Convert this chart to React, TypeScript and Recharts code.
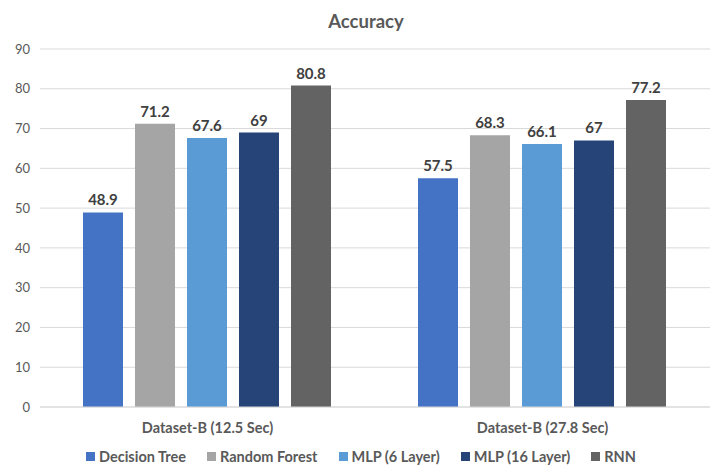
import { BarChart, Bar, XAxis, YAxis, CartesianGrid, Legend, LabelList } from "recharts";

const categories = ["Dataset-B (12.5 Sec)", "Dataset-B (27.8 Sec)"];
const decisionTree = [48.9, 57.5];
const randomForest = [71.2, 68.3];
const mlp6 = [67.6, 66.1];
const mlp16 = [69, 67];
const rnn = [80.8, 77.2];
const yTicks = [0, 10, 20, 30, 40, 50, 60, 70, 80, 90];

const series = [
  { key: "dt", name: "Decision Tree", values: decisionTree, color: "#4472C4" },
  { key: "rf", name: "Random Forest", values: randomForest, color: "#A5A5A5" },
  { key: "m6", name: "MLP (6 Layer)", values: mlp6, color: "#5B9BD5" },
  { key: "m16", name: "MLP (16 Layer)", values: mlp16, color: "#264478" },
  { key: "rnn", name: "RNN", values: rnn, color: "#636363" },
];

const data = categories.map((c, i) => {
  const row: any = { category: c };
  series.forEach((s) => (row[s.key] = s.values[i]));
  return row;
});

const font = "Lato, 'Open Sans', sans-serif";

function LegendContent() {
  return (
    <div
      style={{
        height: 26,
        display: "flex",
        justifyContent: "center",
        alignItems: "center",
        gap: 21,
        fontSize: 14.5,
        fontWeight: "bold",
        color: "#595959",
        paddingLeft: 4,
      }}
    >
      {series.map((s) => (
        <div key={s.key} style={{ display: "flex", alignItems: "center" }}>
          <span style={{ width: 9, height: 9, background: s.color, marginRight: 4, display: "inline-block" }} />
          <span>{s.name}</span>
        </div>
      ))}
    </div>
  );
}

export default function App() {
  return (
    <div style={{ width: 716, height: 467, fontFamily: font, position: "relative" }}>
      <div
        style={{
          position: "absolute",
          top: 2,
          left: 0,
          width: 716,
          textAlign: "center",
          fontSize: 18.5,
          fontWeight: "bold",
          color: "#595959",
        }}
      >
        Accuracy
      </div>
      <BarChart
        width={716}
        height={467}
        data={data}
        margin={{ top: 41, right: 14, bottom: 6, left: 0 }}
        barCategoryGap={43}
        barGap={12}
      >
        <CartesianGrid vertical={false} stroke="#d9d9d9" />
        <XAxis
          dataKey="category"
          height={36}
          tickLine={false}
          axisLine={{ stroke: "#d9d9d9" }}
          tick={{ fill: "#595959", fontSize: 14.5, fontWeight: "bold" }}
          tickMargin={10}
        />
        <YAxis
          width={32}
          domain={[0, 90]}
          ticks={yTicks}
          tickLine={false}
          axisLine={false}
          tick={{ fill: "#595959", fontSize: 13 }}
          tickMargin={4}
        />
        <Legend verticalAlign="bottom" height={26} content={<LegendContent />} />
        {series.map((s) => (
          <Bar key={s.key} dataKey={s.key} name={s.name} fill={s.color} isAnimationActive={false}>
            <LabelList
              dataKey={s.key}
              position="top"
              offset={7}
              style={{ fill: "#404040", fontSize: 15, fontWeight: "bold" }}
            />
          </Bar>
        ))}
      </BarChart>
    </div>
  );
}
